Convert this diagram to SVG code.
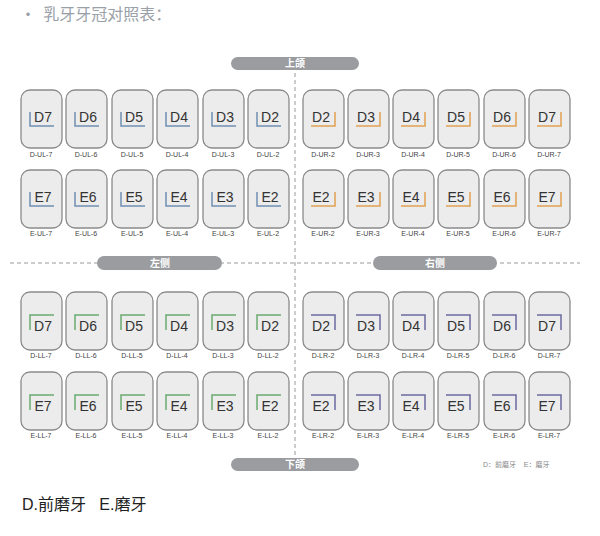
<svg xmlns="http://www.w3.org/2000/svg" width="600" height="536" viewBox="0 0 600 536">
<style>
.c{fill:#ececec;stroke:#8a8a8a;stroke-width:1.3}
.t{font-family:"Liberation Sans",Arial,sans-serif;font-size:14px;fill:#333;text-anchor:middle}
.s{font-family:"Liberation Sans",Arial,sans-serif;font-size:7px;fill:#444;text-anchor:middle}
.ul{fill:none;stroke:#6f8fb0;stroke-width:1.5}
.ur{fill:none;stroke:#e0a050;stroke-width:1.5}
.ll{fill:none;stroke:#6aaa70;stroke-width:1.5}
.lr{fill:none;stroke:#6a6aa0;stroke-width:1.5}
.p{fill:#9a9ca0}
.pt{font-family:"Liberation Sans","Noto Sans CJK SC",sans-serif;font-size:10px;font-weight:bold;fill:#fff;text-anchor:middle}
.d{stroke:#999;stroke-width:1;stroke-dasharray:4 3;fill:none}
</style>
<text x="20" y="20" font-family="'Noto Sans CJK SC',sans-serif" font-size="16" fill="#9aa0a8" xml:space="preserve">•  乳牙牙冠对照表：</text>
<g id="connectors">
<line class="d" x1="295" y1="66" x2="295" y2="472"/>
<line class="d" x1="10" y1="263" x2="580" y2="263"/>
</g>
<g id="pill-top"><rect class="p" x="231" y="57" width="128" height="13" rx="6.5"/><text class="pt" x="295" y="67">上颌</text></g>
<g id="pill-left"><rect class="p" x="97" y="256" width="125" height="14" rx="7"/><text class="pt" x="160" y="267">左侧</text></g>
<g id="pill-right"><rect class="p" x="373" y="256" width="124" height="14" rx="7"/><text class="pt" x="435" y="267">右侧</text></g>
<g id="pill-bottom"><rect class="p" x="231" y="458" width="128" height="13" rx="6.5"/><text class="pt" x="295" y="468">下颌</text></g>
<g id="UL">
<g id="D-UL-7"><rect class="c" x="21" y="90" width="41" height="58" rx="9"/><path class="ul" d="M30 112V126H54"/><text class="t" x="43" y="122">D7</text><text class="s" x="41" y="157">D-UL-7</text></g>
<g id="D-UL-6"><rect class="c" x="66" y="90" width="41" height="58" rx="9"/><path class="ul" d="M75 112V126H99"/><text class="t" x="88" y="122">D6</text><text class="s" x="86" y="157">D-UL-6</text></g>
<g id="D-UL-5"><rect class="c" x="112" y="90" width="41" height="58" rx="9"/><path class="ul" d="M121 112V126H145"/><text class="t" x="134" y="122">D5</text><text class="s" x="132" y="157">D-UL-5</text></g>
<g id="D-UL-4"><rect class="c" x="157" y="90" width="41" height="58" rx="9"/><path class="ul" d="M166 112V126H190"/><text class="t" x="179" y="122">D4</text><text class="s" x="177" y="157">D-UL-4</text></g>
<g id="D-UL-3"><rect class="c" x="203" y="90" width="41" height="58" rx="9"/><path class="ul" d="M212 112V126H236"/><text class="t" x="225" y="122">D3</text><text class="s" x="223" y="157">D-UL-3</text></g>
<g id="D-UL-2"><rect class="c" x="248" y="90" width="41" height="58" rx="9"/><path class="ul" d="M257 112V126H281"/><text class="t" x="270" y="122">D2</text><text class="s" x="268" y="157">D-UL-2</text></g>
<g id="E-UL-7"><rect class="c" x="21" y="170" width="41" height="58" rx="9"/><path class="ul" d="M30 192V206H54"/><text class="t" x="43" y="202">E7</text><text class="s" x="41" y="236">E-UL-7</text></g>
<g id="E-UL-6"><rect class="c" x="66" y="170" width="41" height="58" rx="9"/><path class="ul" d="M75 192V206H99"/><text class="t" x="88" y="202">E6</text><text class="s" x="86" y="236">E-UL-6</text></g>
<g id="E-UL-5"><rect class="c" x="112" y="170" width="41" height="58" rx="9"/><path class="ul" d="M121 192V206H145"/><text class="t" x="134" y="202">E5</text><text class="s" x="132" y="236">E-UL-5</text></g>
<g id="E-UL-4"><rect class="c" x="157" y="170" width="41" height="58" rx="9"/><path class="ul" d="M166 192V206H190"/><text class="t" x="179" y="202">E4</text><text class="s" x="177" y="236">E-UL-4</text></g>
<g id="E-UL-3"><rect class="c" x="203" y="170" width="41" height="58" rx="9"/><path class="ul" d="M212 192V206H236"/><text class="t" x="225" y="202">E3</text><text class="s" x="223" y="236">E-UL-3</text></g>
<g id="E-UL-2"><rect class="c" x="248" y="170" width="41" height="58" rx="9"/><path class="ul" d="M257 192V206H281"/><text class="t" x="270" y="202">E2</text><text class="s" x="268" y="236">E-UL-2</text></g>
</g>
<g id="UR">
<g id="D-UR-2"><rect class="c" x="303" y="90" width="41" height="58" rx="9"/><path class="ur" d="M311 126H335V112"/><text class="t" x="321" y="122">D2</text><text class="s" x="323" y="157">D-UR-2</text></g>
<g id="D-UR-3"><rect class="c" x="348" y="90" width="41" height="58" rx="9"/><path class="ur" d="M356 126H380V112"/><text class="t" x="366" y="122">D3</text><text class="s" x="368" y="157">D-UR-3</text></g>
<g id="D-UR-4"><rect class="c" x="393" y="90" width="41" height="58" rx="9"/><path class="ur" d="M401 126H425V112"/><text class="t" x="411" y="122">D4</text><text class="s" x="413" y="157">D-UR-4</text></g>
<g id="D-UR-5"><rect class="c" x="438" y="90" width="41" height="58" rx="9"/><path class="ur" d="M446 126H470V112"/><text class="t" x="456" y="122">D5</text><text class="s" x="458" y="157">D-UR-5</text></g>
<g id="D-UR-6"><rect class="c" x="484" y="90" width="41" height="58" rx="9"/><path class="ur" d="M492 126H516V112"/><text class="t" x="502" y="122">D6</text><text class="s" x="504" y="157">D-UR-6</text></g>
<g id="D-UR-7"><rect class="c" x="529" y="90" width="41" height="58" rx="9"/><path class="ur" d="M537 126H561V112"/><text class="t" x="547" y="122">D7</text><text class="s" x="549" y="157">D-UR-7</text></g>
<g id="E-UR-2"><rect class="c" x="303" y="170" width="41" height="58" rx="9"/><path class="ur" d="M311 206H335V192"/><text class="t" x="321" y="202">E2</text><text class="s" x="323" y="236">E-UR-2</text></g>
<g id="E-UR-3"><rect class="c" x="348" y="170" width="41" height="58" rx="9"/><path class="ur" d="M356 206H380V192"/><text class="t" x="366" y="202">E3</text><text class="s" x="368" y="236">E-UR-3</text></g>
<g id="E-UR-4"><rect class="c" x="393" y="170" width="41" height="58" rx="9"/><path class="ur" d="M401 206H425V192"/><text class="t" x="411" y="202">E4</text><text class="s" x="413" y="236">E-UR-4</text></g>
<g id="E-UR-5"><rect class="c" x="438" y="170" width="41" height="58" rx="9"/><path class="ur" d="M446 206H470V192"/><text class="t" x="456" y="202">E5</text><text class="s" x="458" y="236">E-UR-5</text></g>
<g id="E-UR-6"><rect class="c" x="484" y="170" width="41" height="58" rx="9"/><path class="ur" d="M492 206H516V192"/><text class="t" x="502" y="202">E6</text><text class="s" x="504" y="236">E-UR-6</text></g>
<g id="E-UR-7"><rect class="c" x="529" y="170" width="41" height="58" rx="9"/><path class="ur" d="M537 206H561V192"/><text class="t" x="547" y="202">E7</text><text class="s" x="549" y="236">E-UR-7</text></g>
</g>
<g id="LL">
<g id="D-LL-7"><rect class="c" x="21" y="292" width="41" height="58" rx="9"/><path class="ll" d="M30 330V315H54"/><text class="t" x="43" y="331">D7</text><text class="s" x="41" y="358">D-LL-7</text></g>
<g id="D-LL-6"><rect class="c" x="66" y="292" width="41" height="58" rx="9"/><path class="ll" d="M75 330V315H99"/><text class="t" x="88" y="331">D6</text><text class="s" x="86" y="358">D-LL-6</text></g>
<g id="D-LL-5"><rect class="c" x="112" y="292" width="41" height="58" rx="9"/><path class="ll" d="M121 330V315H145"/><text class="t" x="134" y="331">D5</text><text class="s" x="132" y="358">D-LL-5</text></g>
<g id="D-LL-4"><rect class="c" x="157" y="292" width="41" height="58" rx="9"/><path class="ll" d="M166 330V315H190"/><text class="t" x="179" y="331">D4</text><text class="s" x="177" y="358">D-LL-4</text></g>
<g id="D-LL-3"><rect class="c" x="203" y="292" width="41" height="58" rx="9"/><path class="ll" d="M212 330V315H236"/><text class="t" x="225" y="331">D3</text><text class="s" x="223" y="358">D-LL-3</text></g>
<g id="D-LL-2"><rect class="c" x="248" y="292" width="41" height="58" rx="9"/><path class="ll" d="M257 330V315H281"/><text class="t" x="270" y="331">D2</text><text class="s" x="268" y="358">D-LL-2</text></g>
<g id="E-LL-7"><rect class="c" x="21" y="372" width="41" height="58" rx="9"/><path class="ll" d="M30 410V395H54"/><text class="t" x="43" y="411">E7</text><text class="s" x="41" y="438">E-LL-7</text></g>
<g id="E-LL-6"><rect class="c" x="66" y="372" width="41" height="58" rx="9"/><path class="ll" d="M75 410V395H99"/><text class="t" x="88" y="411">E6</text><text class="s" x="86" y="438">E-LL-6</text></g>
<g id="E-LL-5"><rect class="c" x="112" y="372" width="41" height="58" rx="9"/><path class="ll" d="M121 410V395H145"/><text class="t" x="134" y="411">E5</text><text class="s" x="132" y="438">E-LL-5</text></g>
<g id="E-LL-4"><rect class="c" x="157" y="372" width="41" height="58" rx="9"/><path class="ll" d="M166 410V395H190"/><text class="t" x="179" y="411">E4</text><text class="s" x="177" y="438">E-LL-4</text></g>
<g id="E-LL-3"><rect class="c" x="203" y="372" width="41" height="58" rx="9"/><path class="ll" d="M212 410V395H236"/><text class="t" x="225" y="411">E3</text><text class="s" x="223" y="438">E-LL-3</text></g>
<g id="E-LL-2"><rect class="c" x="248" y="372" width="41" height="58" rx="9"/><path class="ll" d="M257 410V395H281"/><text class="t" x="270" y="411">E2</text><text class="s" x="268" y="438">E-LL-2</text></g>
</g>
<g id="LR">
<g id="D-LR-2"><rect class="c" x="303" y="292" width="41" height="58" rx="9"/><path class="lr" d="M311 315H335V330"/><text class="t" x="321" y="331">D2</text><text class="s" x="323" y="358">D-LR-2</text></g>
<g id="D-LR-3"><rect class="c" x="348" y="292" width="41" height="58" rx="9"/><path class="lr" d="M356 315H380V330"/><text class="t" x="366" y="331">D3</text><text class="s" x="368" y="358">D-LR-3</text></g>
<g id="D-LR-4"><rect class="c" x="393" y="292" width="41" height="58" rx="9"/><path class="lr" d="M401 315H425V330"/><text class="t" x="411" y="331">D4</text><text class="s" x="413" y="358">D-LR-4</text></g>
<g id="D-LR-5"><rect class="c" x="438" y="292" width="41" height="58" rx="9"/><path class="lr" d="M446 315H470V330"/><text class="t" x="456" y="331">D5</text><text class="s" x="458" y="358">D-LR-5</text></g>
<g id="D-LR-6"><rect class="c" x="484" y="292" width="41" height="58" rx="9"/><path class="lr" d="M492 315H516V330"/><text class="t" x="502" y="331">D6</text><text class="s" x="504" y="358">D-LR-6</text></g>
<g id="D-LR-7"><rect class="c" x="529" y="292" width="41" height="58" rx="9"/><path class="lr" d="M537 315H561V330"/><text class="t" x="547" y="331">D7</text><text class="s" x="549" y="358">D-LR-7</text></g>
<g id="E-LR-2"><rect class="c" x="303" y="372" width="41" height="58" rx="9"/><path class="lr" d="M311 395H335V410"/><text class="t" x="321" y="411">E2</text><text class="s" x="323" y="438">E-LR-2</text></g>
<g id="E-LR-3"><rect class="c" x="348" y="372" width="41" height="58" rx="9"/><path class="lr" d="M356 395H380V410"/><text class="t" x="366" y="411">E3</text><text class="s" x="368" y="438">E-LR-3</text></g>
<g id="E-LR-4"><rect class="c" x="393" y="372" width="41" height="58" rx="9"/><path class="lr" d="M401 395H425V410"/><text class="t" x="411" y="411">E4</text><text class="s" x="413" y="438">E-LR-4</text></g>
<g id="E-LR-5"><rect class="c" x="438" y="372" width="41" height="58" rx="9"/><path class="lr" d="M446 395H470V410"/><text class="t" x="456" y="411">E5</text><text class="s" x="458" y="438">E-LR-5</text></g>
<g id="E-LR-6"><rect class="c" x="484" y="372" width="41" height="58" rx="9"/><path class="lr" d="M492 395H516V410"/><text class="t" x="502" y="411">E6</text><text class="s" x="504" y="438">E-LR-6</text></g>
<g id="E-LR-7"><rect class="c" x="529" y="372" width="41" height="58" rx="9"/><path class="lr" d="M537 395H561V410"/><text class="t" x="547" y="411">E7</text><text class="s" x="549" y="438">E-LR-7</text></g>
</g>
<text x="483" y="467" font-family="'Liberation Sans','Noto Sans CJK SC',sans-serif" font-size="7" fill="#888" xml:space="preserve">D：前磨牙    E：磨牙</text>
<text x="22" y="510" font-family="'Liberation Sans','Noto Sans CJK SC',sans-serif" font-size="16" fill="#222" xml:space="preserve">D.前磨牙   E.磨牙</text>
</svg>
